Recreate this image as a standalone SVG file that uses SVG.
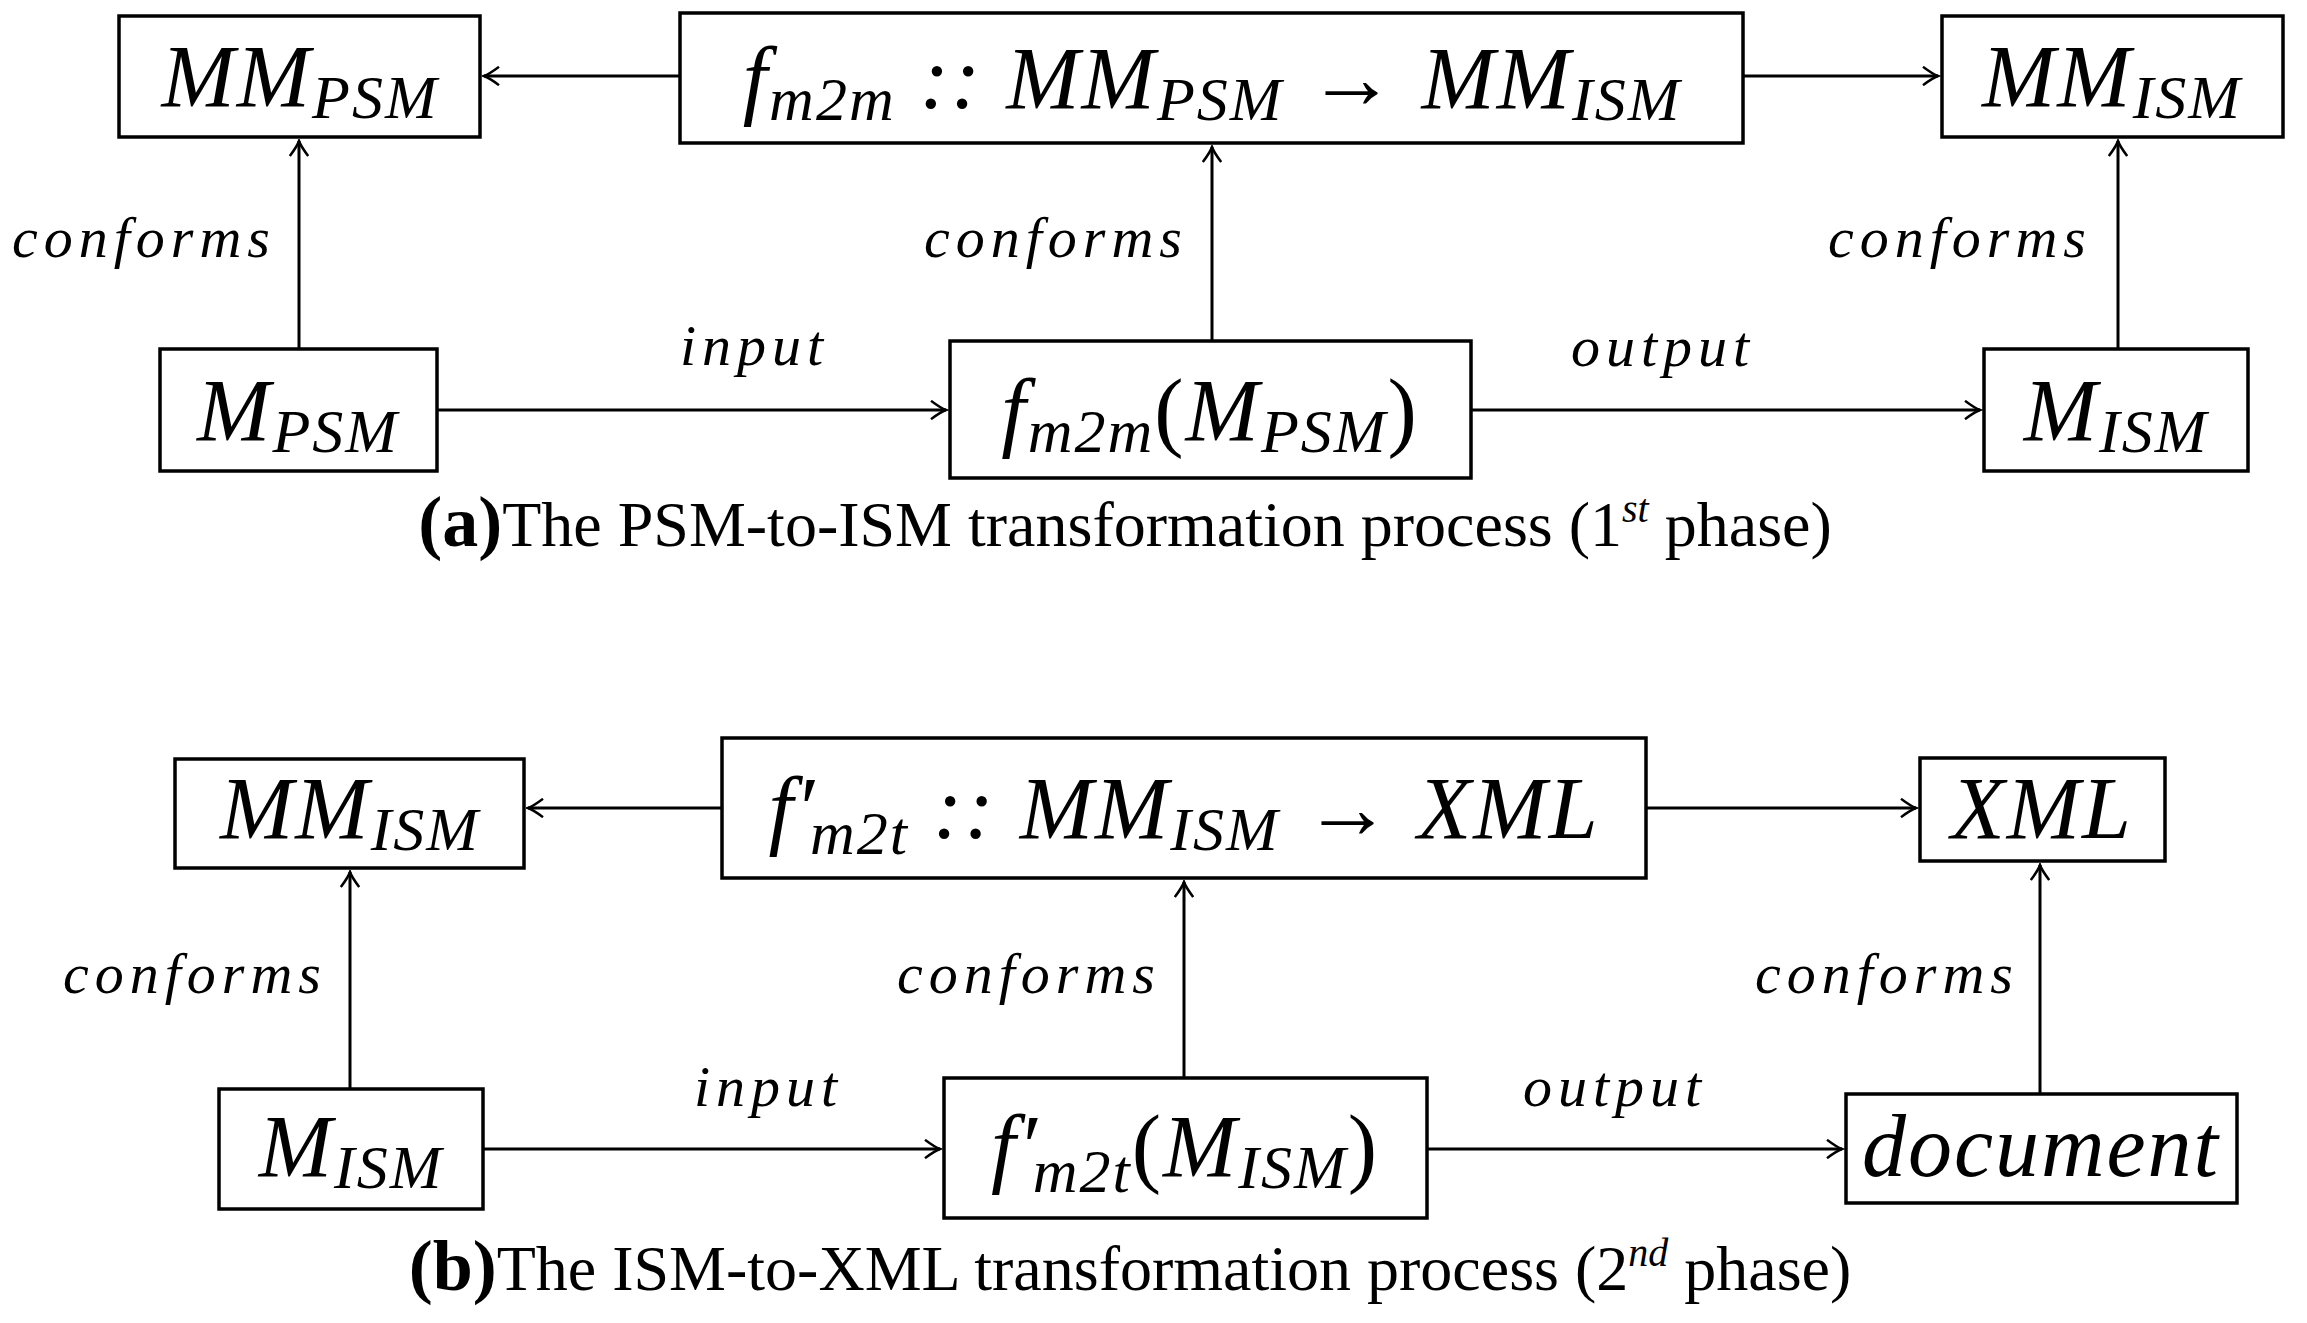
<svg xmlns="http://www.w3.org/2000/svg" width="2307" height="1323" viewBox="0 0 2307 1323">
<style>
.b{fill:#fff;stroke:#000;stroke-width:3.5}
.c{stroke:#000;stroke-width:3;fill:none}
.m{font-family:"Liberation Serif",serif;font-style:italic;font-size:88px;text-anchor:middle;letter-spacing:2px}
.s{font-size:62px}
.l{font-family:"Liberation Serif",serif;font-style:italic;font-size:58px;letter-spacing:6px}
.cap{font-family:"Liberation Serif",serif;font-size:64px;text-anchor:middle}
</style>
<defs><marker id="a" markerWidth="20" markerHeight="20" refX="0" refY="0" viewBox="-20 -12 22 24" markerUnits="userSpaceOnUse" orient="auto"><path d="M-18,-11 Q-6,-2 0,0 Q-6,2 -18,11" fill="none" stroke="#000" stroke-width="3"/></marker></defs>
<g id="connectors">
<line class="c" x1="680" y1="76" x2="484" y2="76" marker-end="url(#a)"/>
<line class="c" x1="1743" y1="76" x2="1938" y2="76" marker-end="url(#a)"/>
<line class="c" x1="299" y1="349" x2="299" y2="141" marker-end="url(#a)"/>
<line class="c" x1="1212" y1="341" x2="1212" y2="147" marker-end="url(#a)"/>
<line class="c" x1="2118" y1="349" x2="2118" y2="141" marker-end="url(#a)"/>
<line class="c" x1="437" y1="410" x2="946" y2="410" marker-end="url(#a)"/>
<line class="c" x1="1471" y1="410" x2="1980" y2="410" marker-end="url(#a)"/>
<line class="c" x1="722" y1="808" x2="528" y2="808" marker-end="url(#a)"/>
<line class="c" x1="1646" y1="808" x2="1916" y2="808" marker-end="url(#a)"/>
<line class="c" x1="350" y1="1089" x2="350" y2="872" marker-end="url(#a)"/>
<line class="c" x1="1184" y1="1078" x2="1184" y2="882" marker-end="url(#a)"/>
<line class="c" x1="2040" y1="1094" x2="2040" y2="865" marker-end="url(#a)"/>
<line class="c" x1="483" y1="1149" x2="940" y2="1149" marker-end="url(#a)"/>
<line class="c" x1="1427" y1="1149" x2="1842" y2="1149" marker-end="url(#a)"/>
<text class="l" x="12" y="257">conforms</text>
<text class="l" x="924" y="257">conforms</text>
<text class="l" x="1828" y="257">conforms</text>
<text class="l" x="680" y="365">input</text>
<text class="l" x="1571" y="366">output</text>
<text class="l" x="63" y="993">conforms</text>
<text class="l" x="897" y="993">conforms</text>
<text class="l" x="1755" y="993">conforms</text>
<text class="l" x="694" y="1106">input</text>
<text class="l" x="1523" y="1106">output</text>
</g>
<g id="n1"><rect class="b" x="119" y="16" width="361" height="121"/><text class="m" x="300" y="106">MM<tspan class="s" dy="12">PSM</tspan></text></g>
<g id="n2"><rect class="b" x="680" y="13" width="1063" height="130"/><text class="m" x="1212" y="108">f<tspan class="s" dy="12">m2m</tspan><tspan dy="-12"> :: MM</tspan><tspan class="s" dy="12">PSM</tspan><tspan dy="-12" style="font-style:normal"> → </tspan><tspan>MM</tspan><tspan class="s" dy="12">ISM</tspan></text></g>
<g id="n3"><rect class="b" x="1942" y="16" width="341" height="121"/><text class="m" x="2112" y="106">MM<tspan class="s" dy="12">ISM</tspan></text></g>
<g id="n4"><rect class="b" x="160" y="349" width="277" height="122"/><text class="m" x="298" y="440">M<tspan class="s" dy="12">PSM</tspan></text></g>
<g id="n5"><rect class="b" x="950" y="341" width="521" height="137"/><text class="m" x="1210" y="440">f<tspan class="s" dy="12">m2m</tspan><tspan dy="-12" style="font-style:normal">(</tspan><tspan>M</tspan><tspan class="s" dy="12">PSM</tspan><tspan dy="-12" style="font-style:normal">)</tspan></text></g>
<g id="n6"><rect class="b" x="1984" y="349" width="264" height="122"/><text class="m" x="2116" y="440">M<tspan class="s" dy="12">ISM</tspan></text></g>
<text class="cap" x="1125" y="546"><tspan font-weight="bold" font-size="72">(a)</tspan>The PSM-to-ISM transformation process (1<tspan font-size="40" font-style="italic" dy="-24">st</tspan><tspan dy="24"> phase)</tspan></text>
<g id="n7"><rect class="b" x="175" y="759" width="349" height="109"/><text class="m" x="350" y="838">MM<tspan class="s" dy="12">ISM</tspan></text></g>
<g id="n8"><rect class="b" x="722" y="738" width="924" height="140"/><text class="m" x="1184" y="838">f′<tspan class="s" dx="-6" dy="16">m2t</tspan><tspan dy="-16"> :: MM</tspan><tspan class="s" dy="12">ISM</tspan><tspan dy="-12" style="font-style:normal"> → </tspan><tspan>XML</tspan></text></g>
<g id="n9"><rect class="b" x="1920" y="758" width="245" height="103"/><text class="m" x="2042" y="838">XML</text></g>
<g id="n10"><rect class="b" x="219" y="1089" width="264" height="120"/><text class="m" x="351" y="1176">M<tspan class="s" dy="12">ISM</tspan></text></g>
<g id="n11"><rect class="b" x="944" y="1078" width="483" height="140"/><text class="m" x="1185" y="1176">f′<tspan class="s" dx="-6" dy="16">m2t</tspan><tspan dy="-16" style="font-style:normal">(</tspan><tspan>M</tspan><tspan class="s" dy="12">ISM</tspan><tspan dy="-12" style="font-style:normal">)</tspan></text></g>
<g id="n12"><rect class="b" x="1846" y="1094" width="391" height="109"/><text class="m" x="2041" y="1176">document</text></g>
<text class="cap" x="1130" y="1290"><tspan font-weight="bold" font-size="72">(b)</tspan>The ISM-to-XML transformation process (2<tspan font-size="40" font-style="italic" dy="-24">nd</tspan><tspan dy="24"> phase)</tspan></text>
</svg>
